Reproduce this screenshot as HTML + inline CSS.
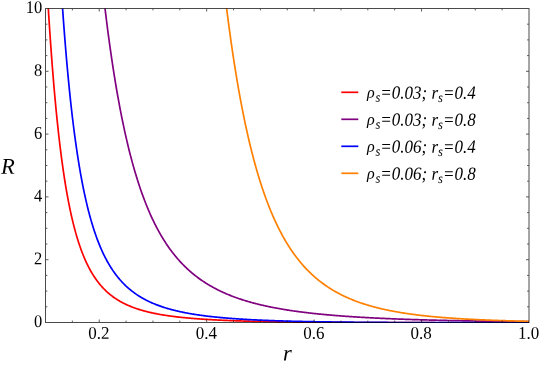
<!DOCTYPE html>
<html><head><meta charset="utf-8"><style>
html,body{margin:0;padding:0;background:#fff;}
svg{display:block;will-change:transform;font-family:"Liberation Serif",serif;}
</style></head><body>
<svg width="540" height="366" viewBox="0 0 540 366">
<rect width="540" height="366" fill="#fff"/>
<defs><clipPath id="c"><rect x="45.5" y="8.5" width="483.5" height="314.6"/></clipPath></defs>
<g clip-path="url(#c)">
<polyline points="45.50,-40.56 46.19,-27.72 46.88,-15.36 47.58,-3.49 48.27,7.93 48.96,18.90 49.65,29.44 50.34,39.57 51.03,49.31 51.73,58.66 52.42,67.65 53.11,76.28 53.80,84.57 54.49,92.54 55.18,100.20 55.88,107.56 56.57,114.63 57.26,121.42 57.95,127.95 58.64,134.23 59.33,140.27 60.03,146.08 60.72,151.66 61.41,157.03 62.10,162.20 62.79,167.17 63.48,171.96 64.18,176.56 64.87,181.00 65.56,185.27 66.25,189.38 66.94,193.34 67.63,197.16 68.33,200.83 69.02,204.38 69.71,207.79 70.40,211.09 71.09,214.27 71.78,217.33 72.48,220.29 73.17,223.15 73.86,225.90 74.55,228.56 75.24,231.13 75.93,233.61 76.63,236.01 77.32,238.32 78.01,240.56 78.70,242.73 79.39,244.82 80.08,246.84 80.78,248.80 81.47,250.69 82.16,252.52 82.85,254.30 83.54,256.01 84.23,257.68 84.93,259.29 85.62,260.85 86.31,262.36 87.00,263.82 87.69,265.24 88.38,266.62 89.08,267.95 89.77,269.25 90.46,270.50 91.15,271.72 91.84,272.90 92.53,274.05 93.23,275.16 93.92,276.24 94.61,277.29 95.30,278.31 95.99,279.30 96.68,280.26 97.38,281.20 98.07,282.11 98.76,282.99 99.45,283.85 100.14,284.69 100.83,285.50 101.53,286.29 102.22,287.06 102.91,287.81 103.60,288.54 104.29,289.24 104.98,289.93 105.68,290.61 106.37,291.26 107.06,291.90 107.75,292.52 108.44,293.13 109.13,293.72 109.83,294.29 110.52,294.85 111.21,295.40 111.90,295.93 112.59,296.45 113.28,296.96 113.98,297.46 114.67,297.94 115.36,298.41 116.05,298.87 116.74,299.32 117.43,299.76 118.13,300.18 118.82,300.60 119.51,301.01 120.20,301.41 120.89,301.80 121.58,302.18 122.28,302.55 122.97,302.91 123.66,303.27 124.35,303.61 125.04,303.95 125.73,304.28 126.43,304.61 127.12,304.93 127.81,305.24 128.50,305.54 129.19,305.84 129.88,306.13 130.58,306.41 131.27,306.69 131.96,306.96 132.65,307.23 133.34,307.49 134.03,307.74 134.73,307.99 135.42,308.24 136.11,308.48 136.80,308.71 137.49,308.94 138.18,309.17 138.88,309.39 139.57,309.61 140.26,309.82 140.95,310.03 141.64,310.23 142.33,310.43 143.03,310.63 143.72,310.82 144.41,311.01 145.10,311.19 145.79,311.37 146.48,311.55 147.18,311.72 147.87,311.89 148.56,312.06 149.25,312.23 149.94,312.39 150.63,312.55 151.33,312.70 152.02,312.85 152.71,313.00 153.40,313.15 154.09,313.30 154.78,313.44 155.48,313.58 156.17,313.71 156.86,313.85 157.55,313.98 158.24,314.11 158.93,314.24 159.63,314.36 160.32,314.48 161.01,314.60 161.70,314.72 162.39,314.84 163.08,314.95 163.78,315.06 164.47,315.18 165.16,315.28 165.85,315.39 166.54,315.50 167.23,315.60 167.93,315.70 168.62,315.80 169.31,315.90 170.00,315.99 170.69,316.09 171.38,316.18 172.08,316.27 172.77,316.36 173.46,316.45 174.15,316.54 174.84,316.63 175.53,316.71 176.23,316.79 176.92,316.88 177.61,316.96 178.30,317.04 178.99,317.11 179.68,317.19 180.38,317.27 181.07,317.34 181.76,317.41 182.45,317.48 183.14,317.56 183.83,317.63 184.53,317.69 185.22,317.76 185.91,317.83 186.60,317.89 187.29,317.96 187.98,318.02 188.68,318.08 189.37,318.15 190.06,318.21 190.75,318.27 191.44,318.33 192.13,318.38 192.83,318.44 193.52,318.50 194.21,318.55 194.90,318.61 195.59,318.66 196.28,318.72 196.98,318.77 197.67,318.82 198.36,318.87 199.05,318.92 199.74,318.97 200.43,319.02 201.13,319.07 201.82,319.11 202.51,319.16 203.20,319.21 203.89,319.25 204.58,319.30 205.28,319.34 205.97,319.38 206.66,319.43 207.35,319.47 208.04,319.51 208.74,319.55 209.43,319.59 210.12,319.63 210.81,319.67 211.50,319.71 212.19,319.75 212.89,319.78 213.58,319.82 214.27,319.86 214.96,319.89 215.65,319.93 216.34,319.97 217.04,320.00 217.73,320.03 218.42,320.07 219.11,320.10 219.80,320.13 220.49,320.17 221.19,320.20 221.88,320.23 222.57,320.26 223.26,320.29 223.95,320.32 224.64,320.35 225.34,320.38 226.03,320.41 226.72,320.44 227.41,320.47 228.10,320.50 228.79,320.52 229.49,320.55 230.18,320.58 230.87,320.61 231.56,320.63 232.25,320.66 232.94,320.68 233.64,320.71 234.33,320.73 235.02,320.76 235.71,320.78 236.40,320.81 237.09,320.83 237.79,320.85 238.48,320.88 239.17,320.90 239.86,320.92 240.55,320.94 241.24,320.97 241.94,320.99 242.63,321.01 243.32,321.03 244.01,321.05 244.70,321.07 245.39,321.09 246.09,321.11 246.78,321.13 247.47,321.15 248.16,321.17 248.85,321.19 249.54,321.21 250.24,321.23 250.93,321.24 251.62,321.26 252.31,321.28 253.00,321.30 253.69,321.32 254.39,321.33 255.08,321.35 255.77,321.37 256.46,321.38 257.15,321.40 257.84,321.42 258.54,321.43 259.23,321.45 259.92,321.46 260.61,321.48 261.30,321.49 261.99,321.51 262.69,321.52 263.38,321.54 264.07,321.55 264.76,321.57 265.45,321.58 266.14,321.60 266.84,321.61 267.53,321.62 268.22,321.64 268.91,321.65 269.60,321.66 270.29,321.68 270.99,321.69 271.68,321.70 272.37,321.71 273.06,321.73 273.75,321.74 274.44,321.75 275.14,321.76 275.83,321.78 276.52,321.79 277.21,321.80 277.90,321.81 278.59,321.82 279.29,321.83 279.98,321.84 280.67,321.85 281.36,321.87 282.05,321.88 282.74,321.89 283.44,321.90 284.13,321.91 284.82,321.92 285.51,321.93 286.20,321.94 286.89,321.95 287.59,321.96 288.28,321.97 288.97,321.98 289.66,321.99 290.35,321.99 291.04,322.00 291.74,322.01 292.43,322.02 293.12,322.03 293.81,322.04 294.50,322.05 295.19,322.06 295.89,322.06 296.58,322.07 297.27,322.08 297.96,322.09 298.65,322.10 299.34,322.11 300.04,322.11 300.73,322.12 301.42,322.13 302.11,322.14 302.80,322.14 303.49,322.15 304.19,322.16 304.88,322.17 305.57,322.17 306.26,322.18 306.95,322.19 307.64,322.19 308.34,322.20 309.03,322.21 309.72,322.21 310.41,322.22 311.10,322.23 311.79,322.23 312.49,322.24 313.18,322.25 313.87,322.25 314.56,322.26 315.25,322.26 315.94,322.27 316.64,322.28 317.33,322.28 318.02,322.29 318.71,322.29 319.40,322.30 320.09,322.31 320.79,322.31 321.48,322.32 322.17,322.32 322.86,322.33 323.55,322.33 324.24,322.34 324.94,322.34 325.63,322.35 326.32,322.35 327.01,322.36 327.70,322.36 328.39,322.37 329.09,322.37 329.78,322.38 330.47,322.38 331.16,322.39 331.85,322.39 332.54,322.40 333.24,322.40 333.93,322.41 334.62,322.41 335.31,322.41 336.00,322.42 336.69,322.42 337.39,322.43 338.08,322.43 338.77,322.44 339.46,322.44 340.15,322.44 340.84,322.45 341.54,322.45 342.23,322.46 342.92,322.46 343.61,322.46 344.30,322.47 344.99,322.47 345.69,322.47 346.38,322.48 347.07,322.48 347.76,322.49 348.45,322.49 349.14,322.49 349.84,322.50 350.53,322.50 351.22,322.50 351.91,322.51 352.60,322.51 353.29,322.51 353.99,322.52 354.68,322.52 355.37,322.52 356.06,322.53 356.75,322.53 357.44,322.53 358.14,322.53 358.83,322.54 359.52,322.54 360.21,322.54 360.90,322.55 361.59,322.55 362.29,322.55 362.98,322.55 363.67,322.56 364.36,322.56 365.05,322.56 365.74,322.57 366.44,322.57 367.13,322.57 367.82,322.57 368.51,322.58 369.20,322.58 369.90,322.58 370.59,322.58 371.28,322.59 371.97,322.59 372.66,322.59 373.35,322.59 374.05,322.60 374.74,322.60 375.43,322.60 376.12,322.60 376.81,322.60 377.50,322.61 378.20,322.61 378.89,322.61 379.58,322.61 380.27,322.61 380.96,322.62 381.65,322.62 382.35,322.62 383.04,322.62 383.73,322.63 384.42,322.63 385.11,322.63 385.80,322.63 386.50,322.63 387.19,322.63 387.88,322.64 388.57,322.64 389.26,322.64 389.95,322.64 390.65,322.64 391.34,322.65 392.03,322.65 392.72,322.65 393.41,322.65 394.10,322.65 394.80,322.65 395.49,322.66 396.18,322.66 396.87,322.66 397.56,322.66 398.25,322.66 398.95,322.66 399.64,322.67 400.33,322.67 401.02,322.67 401.71,322.67 402.40,322.67 403.10,322.67 403.79,322.67 404.48,322.68 405.17,322.68 405.86,322.68 406.55,322.68 407.25,322.68 407.94,322.68 408.63,322.68 409.32,322.69 410.01,322.69 410.70,322.69 411.40,322.69 412.09,322.69 412.78,322.69 413.47,322.69 414.16,322.69 414.85,322.70 415.55,322.70 416.24,322.70 416.93,322.70 417.62,322.70 418.31,322.70 419.00,322.70 419.70,322.70 420.39,322.70 421.08,322.71 421.77,322.71 422.46,322.71 423.15,322.71 423.85,322.71 424.54,322.71 425.23,322.71 425.92,322.71 426.61,322.71 427.30,322.71 428.00,322.72 428.69,322.72 429.38,322.72 430.07,322.72 430.76,322.72 431.45,322.72 432.15,322.72 432.84,322.72 433.53,322.72 434.22,322.72 434.91,322.72 435.60,322.73 436.30,322.73 436.99,322.73 437.68,322.73 438.37,322.73 439.06,322.73 439.75,322.73 440.45,322.73 441.14,322.73 441.83,322.73 442.52,322.73 443.21,322.73 443.90,322.74 444.60,322.74 445.29,322.74 445.98,322.74 446.67,322.74 447.36,322.74 448.05,322.74 448.75,322.74 449.44,322.74 450.13,322.74 450.82,322.74 451.51,322.74 452.20,322.74 452.90,322.74 453.59,322.74 454.28,322.75 454.97,322.75 455.66,322.75 456.35,322.75 457.05,322.75 457.74,322.75 458.43,322.75 459.12,322.75 459.81,322.75 460.50,322.75 461.20,322.75 461.89,322.75 462.58,322.75 463.27,322.75 463.96,322.75 464.65,322.75 465.35,322.75 466.04,322.76 466.73,322.76 467.42,322.76 468.11,322.76 468.80,322.76 469.50,322.76 470.19,322.76 470.88,322.76 471.57,322.76 472.26,322.76 472.95,322.76 473.65,322.76 474.34,322.76 475.03,322.76 475.72,322.76 476.41,322.76 477.10,322.76 477.80,322.76 478.49,322.76 479.18,322.76 479.87,322.76 480.56,322.76 481.25,322.77 481.95,322.77 482.64,322.77 483.33,322.77 484.02,322.77 484.71,322.77 485.40,322.77 486.10,322.77 486.79,322.77 487.48,322.77 488.17,322.77 488.86,322.77 489.55,322.77 490.25,322.77 490.94,322.77 491.63,322.77 492.32,322.77 493.01,322.77 493.70,322.77 494.40,322.77 495.09,322.77 495.78,322.77 496.47,322.77 497.16,322.77 497.85,322.77 498.55,322.77 499.24,322.77 499.93,322.77 500.62,322.77 501.31,322.78 502.00,322.78 502.70,322.78 503.39,322.78 504.08,322.78 504.77,322.78 505.46,322.78 506.15,322.78 506.85,322.78 507.54,322.78 508.23,322.78 508.92,322.78 509.61,322.78 510.30,322.78 511.00,322.78 511.69,322.78 512.38,322.78 513.07,322.78 513.76,322.78 514.45,322.78 515.15,322.78 515.84,322.78 516.53,322.78 517.22,322.78 517.91,322.78 518.60,322.78 519.30,322.78 519.99,322.78 520.68,322.78 521.37,322.78 522.06,322.78 522.75,322.78 523.45,322.78 524.14,322.78 524.83,322.78 525.52,322.78 526.21,322.78 526.90,322.78 527.60,322.78 528.29,322.78 528.98,322.78" fill="none" stroke="#ff0000" stroke-width="1.7" stroke-linejoin="round"/>
<polyline points="95.99,-78.68 96.68,-71.07 97.38,-63.63 98.07,-56.35 98.76,-49.23 99.45,-42.26 100.14,-35.45 100.83,-28.79 101.53,-22.28 102.22,-15.90 102.91,-9.67 103.60,-3.57 104.29,2.39 104.98,8.23 105.68,13.94 106.37,19.52 107.06,24.99 107.75,30.33 108.44,35.57 109.13,40.69 109.83,45.70 110.52,50.60 111.21,55.40 111.90,60.09 112.59,64.69 113.28,69.19 113.98,73.59 114.67,77.90 115.36,82.12 116.05,86.26 116.74,90.30 117.43,94.26 118.13,98.14 118.82,101.94 119.51,105.66 120.20,109.30 120.89,112.87 121.58,116.37 122.28,119.79 122.97,123.15 123.66,126.44 124.35,129.66 125.04,132.81 125.73,135.90 126.43,138.93 127.12,141.90 127.81,144.81 128.50,147.66 129.19,150.46 129.88,153.20 130.58,155.89 131.27,158.52 131.96,161.10 132.65,163.63 133.34,166.12 134.03,168.55 134.73,170.94 135.42,173.28 136.11,175.58 136.80,177.83 137.49,180.04 138.18,182.21 138.88,184.34 139.57,186.42 140.26,188.47 140.95,190.48 141.64,192.45 142.33,194.39 143.03,196.29 143.72,198.15 144.41,199.98 145.10,201.78 145.79,203.54 146.48,205.28 147.18,206.98 147.87,208.65 148.56,210.29 149.25,211.89 149.94,213.48 150.63,215.03 151.33,216.55 152.02,218.05 152.71,219.52 153.40,220.97 154.09,222.39 154.78,223.79 155.48,225.16 156.17,226.50 156.86,227.83 157.55,229.13 158.24,230.41 158.93,231.66 159.63,232.90 160.32,234.11 161.01,235.31 161.70,236.48 162.39,237.64 163.08,238.77 163.78,239.89 164.47,240.98 165.16,242.06 165.85,243.12 166.54,244.17 167.23,245.19 167.93,246.20 168.62,247.19 169.31,248.17 170.00,249.13 170.69,250.08 171.38,251.01 172.08,251.92 172.77,252.82 173.46,253.71 174.15,254.58 174.84,255.44 175.53,256.28 176.23,257.11 176.92,257.93 177.61,258.74 178.30,259.53 178.99,260.31 179.68,261.08 180.38,261.83 181.07,262.58 181.76,263.31 182.45,264.03 183.14,264.75 183.83,265.45 184.53,266.14 185.22,266.81 185.91,267.48 186.60,268.14 187.29,268.79 187.98,269.43 188.68,270.06 189.37,270.68 190.06,271.29 190.75,271.90 191.44,272.49 192.13,273.07 192.83,273.65 193.52,274.22 194.21,274.78 194.90,275.33 195.59,275.87 196.28,276.41 196.98,276.94 197.67,277.46 198.36,277.97 199.05,278.48 199.74,278.98 200.43,279.47 201.13,279.95 201.82,280.43 202.51,280.90 203.20,281.37 203.89,281.83 204.58,282.28 205.28,282.73 205.97,283.17 206.66,283.60 207.35,284.03 208.04,284.45 208.74,284.87 209.43,285.28 210.12,285.68 210.81,286.08 211.50,286.48 212.19,286.86 212.89,287.25 213.58,287.63 214.27,288.00 214.96,288.37 215.65,288.73 216.34,289.09 217.04,289.45 217.73,289.80 218.42,290.14 219.11,290.48 219.80,290.82 220.49,291.15 221.19,291.48 221.88,291.80 222.57,292.12 223.26,292.44 223.95,292.75 224.64,293.06 225.34,293.36 226.03,293.66 226.72,293.95 227.41,294.25 228.10,294.53 228.79,294.82 229.49,295.10 230.18,295.38 230.87,295.65 231.56,295.92 232.25,296.19 232.94,296.46 233.64,296.72 234.33,296.97 235.02,297.23 235.71,297.48 236.40,297.73 237.09,297.97 237.79,298.22 238.48,298.46 239.17,298.69 239.86,298.93 240.55,299.16 241.24,299.39 241.94,299.61 242.63,299.84 243.32,300.06 244.01,300.27 244.70,300.49 245.39,300.70 246.09,300.91 246.78,301.12 247.47,301.32 248.16,301.53 248.85,301.73 249.54,301.93 250.24,302.12 250.93,302.32 251.62,302.51 252.31,302.70 253.00,302.88 253.69,303.07 254.39,303.25 255.08,303.43 255.77,303.61 256.46,303.79 257.15,303.96 257.84,304.14 258.54,304.31 259.23,304.48 259.92,304.64 260.61,304.81 261.30,304.97 261.99,305.13 262.69,305.29 263.38,305.45 264.07,305.61 264.76,305.76 265.45,305.92 266.14,306.07 266.84,306.22 267.53,306.37 268.22,306.51 268.91,306.66 269.60,306.80 270.29,306.94 270.99,307.08 271.68,307.22 272.37,307.36 273.06,307.49 273.75,307.63 274.44,307.76 275.14,307.89 275.83,308.02 276.52,308.15 277.21,308.28 277.90,308.41 278.59,308.53 279.29,308.65 279.98,308.78 280.67,308.90 281.36,309.02 282.05,309.14 282.74,309.25 283.44,309.37 284.13,309.48 284.82,309.60 285.51,309.71 286.20,309.82 286.89,309.93 287.59,310.04 288.28,310.15 288.97,310.26 289.66,310.36 290.35,310.47 291.04,310.57 291.74,310.67 292.43,310.77 293.12,310.88 293.81,310.97 294.50,311.07 295.19,311.17 295.89,311.27 296.58,311.36 297.27,311.46 297.96,311.55 298.65,311.64 299.34,311.74 300.04,311.83 300.73,311.92 301.42,312.01 302.11,312.10 302.80,312.18 303.49,312.27 304.19,312.36 304.88,312.44 305.57,312.53 306.26,312.61 306.95,312.69 307.64,312.77 308.34,312.85 309.03,312.94 309.72,313.01 310.41,313.09 311.10,313.17 311.79,313.25 312.49,313.33 313.18,313.40 313.87,313.48 314.56,313.55 315.25,313.62 315.94,313.70 316.64,313.77 317.33,313.84 318.02,313.91 318.71,313.98 319.40,314.05 320.09,314.12 320.79,314.19 321.48,314.26 322.17,314.32 322.86,314.39 323.55,314.46 324.24,314.52 324.94,314.59 325.63,314.65 326.32,314.72 327.01,314.78 327.70,314.84 328.39,314.90 329.09,314.96 329.78,315.02 330.47,315.08 331.16,315.14 331.85,315.20 332.54,315.26 333.24,315.32 333.93,315.38 334.62,315.43 335.31,315.49 336.00,315.55 336.69,315.60 337.39,315.66 338.08,315.71 338.77,315.77 339.46,315.82 340.15,315.87 340.84,315.92 341.54,315.98 342.23,316.03 342.92,316.08 343.61,316.13 344.30,316.18 344.99,316.23 345.69,316.28 346.38,316.33 347.07,316.38 347.76,316.43 348.45,316.47 349.14,316.52 349.84,316.57 350.53,316.61 351.22,316.66 351.91,316.71 352.60,316.75 353.29,316.80 353.99,316.84 354.68,316.89 355.37,316.93 356.06,316.97 356.75,317.02 357.44,317.06 358.14,317.10 358.83,317.14 359.52,317.18 360.21,317.23 360.90,317.27 361.59,317.31 362.29,317.35 362.98,317.39 363.67,317.43 364.36,317.47 365.05,317.51 365.74,317.54 366.44,317.58 367.13,317.62 367.82,317.66 368.51,317.69 369.20,317.73 369.90,317.77 370.59,317.80 371.28,317.84 371.97,317.88 372.66,317.91 373.35,317.95 374.05,317.98 374.74,318.02 375.43,318.05 376.12,318.09 376.81,318.12 377.50,318.15 378.20,318.19 378.89,318.22 379.58,318.25 380.27,318.28 380.96,318.32 381.65,318.35 382.35,318.38 383.04,318.41 383.73,318.44 384.42,318.47 385.11,318.50 385.80,318.53 386.50,318.56 387.19,318.59 387.88,318.62 388.57,318.65 389.26,318.68 389.95,318.71 390.65,318.74 391.34,318.77 392.03,318.80 392.72,318.83 393.41,318.85 394.10,318.88 394.80,318.91 395.49,318.94 396.18,318.96 396.87,318.99 397.56,319.02 398.25,319.04 398.95,319.07 399.64,319.09 400.33,319.12 401.02,319.15 401.71,319.17 402.40,319.20 403.10,319.22 403.79,319.25 404.48,319.27 405.17,319.29 405.86,319.32 406.55,319.34 407.25,319.37 407.94,319.39 408.63,319.41 409.32,319.44 410.01,319.46 410.70,319.48 411.40,319.50 412.09,319.53 412.78,319.55 413.47,319.57 414.16,319.59 414.85,319.62 415.55,319.64 416.24,319.66 416.93,319.68 417.62,319.70 418.31,319.72 419.00,319.74 419.70,319.76 420.39,319.78 421.08,319.80 421.77,319.83 422.46,319.85 423.15,319.87 423.85,319.88 424.54,319.90 425.23,319.92 425.92,319.94 426.61,319.96 427.30,319.98 428.00,320.00 428.69,320.02 429.38,320.04 430.07,320.06 430.76,320.07 431.45,320.09 432.15,320.11 432.84,320.13 433.53,320.15 434.22,320.16 434.91,320.18 435.60,320.20 436.30,320.22 436.99,320.23 437.68,320.25 438.37,320.27 439.06,320.28 439.75,320.30 440.45,320.32 441.14,320.33 441.83,320.35 442.52,320.37 443.21,320.38 443.90,320.40 444.60,320.41 445.29,320.43 445.98,320.44 446.67,320.46 447.36,320.48 448.05,320.49 448.75,320.51 449.44,320.52 450.13,320.54 450.82,320.55 451.51,320.57 452.20,320.58 452.90,320.59 453.59,320.61 454.28,320.62 454.97,320.64 455.66,320.65 456.35,320.67 457.05,320.68 457.74,320.69 458.43,320.71 459.12,320.72 459.81,320.73 460.50,320.75 461.20,320.76 461.89,320.77 462.58,320.79 463.27,320.80 463.96,320.81 464.65,320.82 465.35,320.84 466.04,320.85 466.73,320.86 467.42,320.87 468.11,320.89 468.80,320.90 469.50,320.91 470.19,320.92 470.88,320.94 471.57,320.95 472.26,320.96 472.95,320.97 473.65,320.98 474.34,320.99 475.03,321.01 475.72,321.02 476.41,321.03 477.10,321.04 477.80,321.05 478.49,321.06 479.18,321.07 479.87,321.08 480.56,321.09 481.25,321.11 481.95,321.12 482.64,321.13 483.33,321.14 484.02,321.15 484.71,321.16 485.40,321.17 486.10,321.18 486.79,321.19 487.48,321.20 488.17,321.21 488.86,321.22 489.55,321.23 490.25,321.24 490.94,321.25 491.63,321.26 492.32,321.27 493.01,321.28 493.70,321.29 494.40,321.30 495.09,321.31 495.78,321.31 496.47,321.32 497.16,321.33 497.85,321.34 498.55,321.35 499.24,321.36 499.93,321.37 500.62,321.38 501.31,321.39 502.00,321.39 502.70,321.40 503.39,321.41 504.08,321.42 504.77,321.43 505.46,321.44 506.15,321.45 506.85,321.45 507.54,321.46 508.23,321.47 508.92,321.48 509.61,321.49 510.30,321.49 511.00,321.50 511.69,321.51 512.38,321.52 513.07,321.53 513.76,321.53 514.45,321.54 515.15,321.55 515.84,321.56 516.53,321.56 517.22,321.57 517.91,321.58 518.60,321.59 519.30,321.59 519.99,321.60 520.68,321.61 521.37,321.62 522.06,321.62 522.75,321.63 523.45,321.64 524.14,321.64 524.83,321.65 525.52,321.66 526.21,321.66 526.90,321.67 527.60,321.68 528.29,321.68 528.98,321.69" fill="none" stroke="#800080" stroke-width="1.7" stroke-linejoin="round"/>
<polyline points="57.26,-79.96 57.95,-66.89 58.64,-54.33 59.33,-42.26 60.03,-30.64 60.72,-19.48 61.41,-8.73 62.10,1.60 62.79,11.54 63.48,21.11 64.18,30.33 64.87,39.19 65.56,47.73 66.25,55.96 66.94,63.88 67.63,71.51 68.33,78.87 69.02,85.95 69.71,92.79 70.40,99.38 71.09,105.73 71.78,111.87 72.48,117.78 73.17,123.49 73.86,129.00 74.55,134.32 75.24,139.46 75.93,144.42 76.63,149.21 77.32,153.85 78.01,158.32 78.70,162.65 79.39,166.84 80.08,170.88 80.78,174.80 81.47,178.58 82.16,182.25 82.85,185.80 83.54,189.23 84.23,192.55 84.93,195.77 85.62,198.89 86.31,201.92 87.00,204.84 87.69,207.68 88.38,210.43 89.08,213.10 89.77,215.69 90.46,218.20 91.15,220.64 91.84,223.00 92.53,225.29 93.23,227.52 93.92,229.68 94.61,231.78 95.30,233.82 95.99,235.80 96.68,237.73 97.38,239.60 98.07,241.41 98.76,243.18 99.45,244.90 100.14,246.57 100.83,248.20 101.53,249.78 102.22,251.32 102.91,252.81 103.60,254.27 104.29,255.69 104.98,257.07 105.68,258.41 106.37,259.72 107.06,261.00 107.75,262.24 108.44,263.45 109.13,264.64 109.83,265.79 110.52,266.91 111.21,268.00 111.90,269.07 112.59,270.11 113.28,271.12 113.98,272.11 114.67,273.08 115.36,274.02 116.05,274.94 116.74,275.84 117.43,276.71 118.13,277.57 118.82,278.40 119.51,279.22 120.20,280.01 120.89,280.79 121.58,281.55 122.28,282.30 122.97,283.02 123.66,283.73 124.35,284.43 125.04,285.10 125.73,285.77 126.43,286.42 127.12,287.05 127.81,287.67 128.50,288.28 129.19,288.87 129.88,289.45 130.58,290.02 131.27,290.58 131.96,291.12 132.65,291.65 133.34,292.18 134.03,292.69 134.73,293.19 135.42,293.68 136.11,294.16 136.80,294.63 137.49,295.09 138.18,295.54 138.88,295.98 139.57,296.41 140.26,296.84 140.95,297.25 141.64,297.66 142.33,298.06 143.03,298.45 143.72,298.83 144.41,299.21 145.10,299.58 145.79,299.94 146.48,300.30 147.18,300.65 147.87,300.99 148.56,301.32 149.25,301.65 149.94,301.98 150.63,302.29 151.33,302.60 152.02,302.91 152.71,303.21 153.40,303.50 154.09,303.79 154.78,304.07 155.48,304.35 156.17,304.63 156.86,304.89 157.55,305.16 158.24,305.42 158.93,305.67 159.63,305.92 160.32,306.17 161.01,306.41 161.70,306.64 162.39,306.88 163.08,307.10 163.78,307.33 164.47,307.55 165.16,307.77 165.85,307.98 166.54,308.19 167.23,308.40 167.93,308.60 168.62,308.80 169.31,309.00 170.00,309.19 170.69,309.38 171.38,309.56 172.08,309.75 172.77,309.93 173.46,310.11 174.15,310.28 174.84,310.45 175.53,310.62 176.23,310.79 176.92,310.95 177.61,311.11 178.30,311.27 178.99,311.43 179.68,311.58 180.38,311.73 181.07,311.88 181.76,312.03 182.45,312.17 183.14,312.31 183.83,312.45 184.53,312.59 185.22,312.72 185.91,312.86 186.60,312.99 187.29,313.12 187.98,313.24 188.68,313.37 189.37,313.49 190.06,313.61 190.75,313.73 191.44,313.85 192.13,313.97 192.83,314.08 193.52,314.20 194.21,314.31 194.90,314.42 195.59,314.52 196.28,314.63 196.98,314.74 197.67,314.84 198.36,314.94 199.05,315.04 199.74,315.14 200.43,315.24 201.13,315.33 201.82,315.43 202.51,315.52 203.20,315.61 203.89,315.70 204.58,315.79 205.28,315.88 205.97,315.97 206.66,316.05 207.35,316.14 208.04,316.22 208.74,316.30 209.43,316.38 210.12,316.46 210.81,316.54 211.50,316.62 212.19,316.69 212.89,316.77 213.58,316.84 214.27,316.92 214.96,316.99 215.65,317.06 216.34,317.13 217.04,317.20 217.73,317.27 218.42,317.34 219.11,317.40 219.80,317.47 220.49,317.53 221.19,317.60 221.88,317.66 222.57,317.72 223.26,317.79 223.95,317.85 224.64,317.91 225.34,317.96 226.03,318.02 226.72,318.08 227.41,318.14 228.10,318.19 228.79,318.25 229.49,318.30 230.18,318.36 230.87,318.41 231.56,318.46 232.25,318.51 232.94,318.57 233.64,318.62 234.33,318.67 235.02,318.72 235.71,318.76 236.40,318.81 237.09,318.86 237.79,318.91 238.48,318.95 239.17,319.00 239.86,319.04 240.55,319.09 241.24,319.13 241.94,319.17 242.63,319.22 243.32,319.26 244.01,319.30 244.70,319.34 245.39,319.38 246.09,319.42 246.78,319.46 247.47,319.50 248.16,319.54 248.85,319.58 249.54,319.61 250.24,319.65 250.93,319.69 251.62,319.73 252.31,319.76 253.00,319.80 253.69,319.83 254.39,319.87 255.08,319.90 255.77,319.93 256.46,319.97 257.15,320.00 257.84,320.03 258.54,320.06 259.23,320.10 259.92,320.13 260.61,320.16 261.30,320.19 261.99,320.22 262.69,320.25 263.38,320.28 264.07,320.31 264.76,320.34 265.45,320.36 266.14,320.39 266.84,320.42 267.53,320.45 268.22,320.47 268.91,320.50 269.60,320.53 270.29,320.55 270.99,320.58 271.68,320.60 272.37,320.63 273.06,320.65 273.75,320.68 274.44,320.70 275.14,320.73 275.83,320.75 276.52,320.77 277.21,320.80 277.90,320.82 278.59,320.84 279.29,320.87 279.98,320.89 280.67,320.91 281.36,320.93 282.05,320.95 282.74,320.97 283.44,320.99 284.13,321.01 284.82,321.03 285.51,321.05 286.20,321.07 286.89,321.09 287.59,321.11 288.28,321.13 288.97,321.15 289.66,321.17 290.35,321.19 291.04,321.21 291.74,321.23 292.43,321.24 293.12,321.26 293.81,321.28 294.50,321.30 295.19,321.31 295.89,321.33 296.58,321.35 297.27,321.36 297.96,321.38 298.65,321.39 299.34,321.41 300.04,321.43 300.73,321.44 301.42,321.46 302.11,321.47 302.80,321.49 303.49,321.50 304.19,321.52 304.88,321.53 305.57,321.55 306.26,321.56 306.95,321.57 307.64,321.59 308.34,321.60 309.03,321.61 309.72,321.63 310.41,321.64 311.10,321.65 311.79,321.67 312.49,321.68 313.18,321.69 313.87,321.70 314.56,321.72 315.25,321.73 315.94,321.74 316.64,321.75 317.33,321.77 318.02,321.78 318.71,321.79 319.40,321.80 320.09,321.81 320.79,321.82 321.48,321.83 322.17,321.84 322.86,321.85 323.55,321.87 324.24,321.88 324.94,321.89 325.63,321.90 326.32,321.91 327.01,321.92 327.70,321.93 328.39,321.94 329.09,321.95 329.78,321.96 330.47,321.97 331.16,321.97 331.85,321.98 332.54,321.99 333.24,322.00 333.93,322.01 334.62,322.02 335.31,322.03 336.00,322.04 336.69,322.05 337.39,322.05 338.08,322.06 338.77,322.07 339.46,322.08 340.15,322.09 340.84,322.10 341.54,322.10 342.23,322.11 342.92,322.12 343.61,322.13 344.30,322.13 344.99,322.14 345.69,322.15 346.38,322.16 347.07,322.16 347.76,322.17 348.45,322.18 349.14,322.18 349.84,322.19 350.53,322.20 351.22,322.21 351.91,322.21 352.60,322.22 353.29,322.22 353.99,322.23 354.68,322.24 355.37,322.24 356.06,322.25 356.75,322.26 357.44,322.26 358.14,322.27 358.83,322.27 359.52,322.28 360.21,322.29 360.90,322.29 361.59,322.30 362.29,322.30 362.98,322.31 363.67,322.31 364.36,322.32 365.05,322.33 365.74,322.33 366.44,322.34 367.13,322.34 367.82,322.35 368.51,322.35 369.20,322.36 369.90,322.36 370.59,322.37 371.28,322.37 371.97,322.38 372.66,322.38 373.35,322.39 374.05,322.39 374.74,322.39 375.43,322.40 376.12,322.40 376.81,322.41 377.50,322.41 378.20,322.42 378.89,322.42 379.58,322.43 380.27,322.43 380.96,322.43 381.65,322.44 382.35,322.44 383.04,322.45 383.73,322.45 384.42,322.45 385.11,322.46 385.80,322.46 386.50,322.47 387.19,322.47 387.88,322.47 388.57,322.48 389.26,322.48 389.95,322.48 390.65,322.49 391.34,322.49 392.03,322.49 392.72,322.50 393.41,322.50 394.10,322.51 394.80,322.51 395.49,322.51 396.18,322.51 396.87,322.52 397.56,322.52 398.25,322.52 398.95,322.53 399.64,322.53 400.33,322.53 401.02,322.54 401.71,322.54 402.40,322.54 403.10,322.55 403.79,322.55 404.48,322.55 405.17,322.55 405.86,322.56 406.55,322.56 407.25,322.56 407.94,322.57 408.63,322.57 409.32,322.57 410.01,322.57 410.70,322.58 411.40,322.58 412.09,322.58 412.78,322.58 413.47,322.59 414.16,322.59 414.85,322.59 415.55,322.59 416.24,322.60 416.93,322.60 417.62,322.60 418.31,322.60 419.00,322.60 419.70,322.61 420.39,322.61 421.08,322.61 421.77,322.61 422.46,322.62 423.15,322.62 423.85,322.62 424.54,322.62 425.23,322.62 425.92,322.63 426.61,322.63 427.30,322.63 428.00,322.63 428.69,322.63 429.38,322.64 430.07,322.64 430.76,322.64 431.45,322.64 432.15,322.64 432.84,322.64 433.53,322.65 434.22,322.65 434.91,322.65 435.60,322.65 436.30,322.65 436.99,322.65 437.68,322.66 438.37,322.66 439.06,322.66 439.75,322.66 440.45,322.66 441.14,322.66 441.83,322.67 442.52,322.67 443.21,322.67 443.90,322.67 444.60,322.67 445.29,322.67 445.98,322.67 446.67,322.68 447.36,322.68 448.05,322.68 448.75,322.68 449.44,322.68 450.13,322.68 450.82,322.68 451.51,322.69 452.20,322.69 452.90,322.69 453.59,322.69 454.28,322.69 454.97,322.69 455.66,322.69 456.35,322.69 457.05,322.70 457.74,322.70 458.43,322.70 459.12,322.70 459.81,322.70 460.50,322.70 461.20,322.70 461.89,322.70 462.58,322.70 463.27,322.71 463.96,322.71 464.65,322.71 465.35,322.71 466.04,322.71 466.73,322.71 467.42,322.71 468.11,322.71 468.80,322.71 469.50,322.72 470.19,322.72 470.88,322.72 471.57,322.72 472.26,322.72 472.95,322.72 473.65,322.72 474.34,322.72 475.03,322.72 475.72,322.72 476.41,322.72 477.10,322.73 477.80,322.73 478.49,322.73 479.18,322.73 479.87,322.73 480.56,322.73 481.25,322.73 481.95,322.73 482.64,322.73 483.33,322.73 484.02,322.73 484.71,322.73 485.40,322.74 486.10,322.74 486.79,322.74 487.48,322.74 488.17,322.74 488.86,322.74 489.55,322.74 490.25,322.74 490.94,322.74 491.63,322.74 492.32,322.74 493.01,322.74 493.70,322.74 494.40,322.74 495.09,322.74 495.78,322.75 496.47,322.75 497.16,322.75 497.85,322.75 498.55,322.75 499.24,322.75 499.93,322.75 500.62,322.75 501.31,322.75 502.00,322.75 502.70,322.75 503.39,322.75 504.08,322.75 504.77,322.75 505.46,322.75 506.15,322.75 506.85,322.75 507.54,322.76 508.23,322.76 508.92,322.76 509.61,322.76 510.30,322.76 511.00,322.76 511.69,322.76 512.38,322.76 513.07,322.76 513.76,322.76 514.45,322.76 515.15,322.76 515.84,322.76 516.53,322.76 517.22,322.76 517.91,322.76 518.60,322.76 519.30,322.76 519.99,322.76 520.68,322.76 521.37,322.76 522.06,322.77 522.75,322.77 523.45,322.77 524.14,322.77 524.83,322.77 525.52,322.77 526.21,322.77 526.90,322.77 527.60,322.77 528.29,322.77 528.98,322.77" fill="none" stroke="#0000ff" stroke-width="1.7" stroke-linejoin="round"/>
<polyline points="217.04,-80.57 217.73,-73.25 218.42,-66.08 219.11,-59.06 219.80,-52.19 220.49,-45.47 221.19,-38.88 221.88,-32.43 222.57,-26.12 223.26,-19.93 223.95,-13.88 224.64,-7.94 225.34,-2.13 226.03,3.56 226.72,9.14 227.41,14.60 228.10,19.95 228.79,25.20 229.49,30.34 230.18,35.37 230.87,40.31 231.56,45.15 232.25,49.89 232.94,54.54 233.64,59.09 234.33,63.56 235.02,67.94 235.71,72.23 236.40,76.44 237.09,80.57 237.79,84.61 238.48,88.58 239.17,92.47 239.86,96.29 240.55,100.04 241.24,103.71 241.94,107.31 242.63,110.85 243.32,114.31 244.01,117.71 244.70,121.05 245.39,124.33 246.09,127.54 246.78,130.69 247.47,133.79 248.16,136.83 248.85,139.81 249.54,142.73 250.24,145.60 250.93,148.42 251.62,151.19 252.31,153.91 253.00,156.57 253.69,159.19 254.39,161.76 255.08,164.29 255.77,166.77 256.46,169.20 257.15,171.59 257.84,173.94 258.54,176.25 259.23,178.51 259.92,180.74 260.61,182.92 261.30,185.07 261.99,187.18 262.69,189.25 263.38,191.28 264.07,193.28 264.76,195.25 265.45,197.18 266.14,199.07 266.84,200.94 267.53,202.77 268.22,204.57 268.91,206.34 269.60,208.08 270.29,209.79 270.99,211.47 271.68,213.12 272.37,214.74 273.06,216.34 273.75,217.91 274.44,219.45 275.14,220.97 275.83,222.46 276.52,223.92 277.21,225.36 277.90,226.78 278.59,228.18 279.29,229.55 279.98,230.89 280.67,232.22 281.36,233.52 282.05,234.81 282.74,236.07 283.44,237.31 284.13,238.53 284.82,239.73 285.51,240.91 286.20,242.07 286.89,243.22 287.59,244.34 288.28,245.45 288.97,246.54 289.66,247.61 290.35,248.66 291.04,249.70 291.74,250.72 292.43,251.73 293.12,252.72 293.81,253.69 294.50,254.65 295.19,255.59 295.89,256.52 296.58,257.43 297.27,258.33 297.96,259.21 298.65,260.08 299.34,260.94 300.04,261.79 300.73,262.62 301.42,263.44 302.11,264.24 302.80,265.04 303.49,265.82 304.19,266.59 304.88,267.34 305.57,268.09 306.26,268.82 306.95,269.55 307.64,270.26 308.34,270.96 309.03,271.65 309.72,272.33 310.41,273.00 311.10,273.66 311.79,274.31 312.49,274.95 313.18,275.58 313.87,276.21 314.56,276.82 315.25,277.42 315.94,278.02 316.64,278.60 317.33,279.18 318.02,279.75 318.71,280.31 319.40,280.86 320.09,281.40 320.79,281.94 321.48,282.46 322.17,282.99 322.86,283.50 323.55,284.00 324.24,284.50 324.94,284.99 325.63,285.48 326.32,285.95 327.01,286.42 327.70,286.89 328.39,287.34 329.09,287.79 329.78,288.23 330.47,288.67 331.16,289.10 331.85,289.53 332.54,289.95 333.24,290.36 333.93,290.77 334.62,291.17 335.31,291.56 336.00,291.95 336.69,292.34 337.39,292.72 338.08,293.09 338.77,293.46 339.46,293.82 340.15,294.18 340.84,294.54 341.54,294.89 342.23,295.23 342.92,295.57 343.61,295.90 344.30,296.23 344.99,296.56 345.69,296.88 346.38,297.20 347.07,297.51 347.76,297.82 348.45,298.12 349.14,298.42 349.84,298.72 350.53,299.01 351.22,299.30 351.91,299.58 352.60,299.86 353.29,300.14 353.99,300.41 354.68,300.68 355.37,300.94 356.06,301.20 356.75,301.46 357.44,301.72 358.14,301.97 358.83,302.22 359.52,302.46 360.21,302.70 360.90,302.94 361.59,303.18 362.29,303.41 362.98,303.64 363.67,303.86 364.36,304.09 365.05,304.31 365.74,304.52 366.44,304.74 367.13,304.95 367.82,305.16 368.51,305.37 369.20,305.57 369.90,305.77 370.59,305.97 371.28,306.16 371.97,306.36 372.66,306.55 373.35,306.74 374.05,306.92 374.74,307.11 375.43,307.29 376.12,307.47 376.81,307.64 377.50,307.82 378.20,307.99 378.89,308.16 379.58,308.33 380.27,308.49 380.96,308.66 381.65,308.82 382.35,308.98 383.04,309.13 383.73,309.29 384.42,309.44 385.11,309.60 385.80,309.74 386.50,309.89 387.19,310.04 387.88,310.18 388.57,310.33 389.26,310.47 389.95,310.60 390.65,310.74 391.34,310.88 392.03,311.01 392.72,311.14 393.41,311.27 394.10,311.40 394.80,311.53 395.49,311.66 396.18,311.78 396.87,311.90 397.56,312.02 398.25,312.14 398.95,312.26 399.64,312.38 400.33,312.50 401.02,312.61 401.71,312.72 402.40,312.83 403.10,312.94 403.79,313.05 404.48,313.16 405.17,313.27 405.86,313.37 406.55,313.47 407.25,313.58 407.94,313.68 408.63,313.78 409.32,313.88 410.01,313.97 410.70,314.07 411.40,314.16 412.09,314.26 412.78,314.35 413.47,314.44 414.16,314.53 414.85,314.62 415.55,314.71 416.24,314.80 416.93,314.89 417.62,314.97 418.31,315.06 419.00,315.14 419.70,315.22 420.39,315.31 421.08,315.39 421.77,315.47 422.46,315.54 423.15,315.62 423.85,315.70 424.54,315.78 425.23,315.85 425.92,315.93 426.61,316.00 427.30,316.07 428.00,316.14 428.69,316.21 429.38,316.28 430.07,316.35 430.76,316.42 431.45,316.49 432.15,316.56 432.84,316.62 433.53,316.69 434.22,316.75 434.91,316.82 435.60,316.88 436.30,316.94 436.99,317.01 437.68,317.07 438.37,317.13 439.06,317.19 439.75,317.25 440.45,317.30 441.14,317.36 441.83,317.42 442.52,317.48 443.21,317.53 443.90,317.59 444.60,317.64 445.29,317.70 445.98,317.75 446.67,317.80 447.36,317.85 448.05,317.91 448.75,317.96 449.44,318.01 450.13,318.06 450.82,318.11 451.51,318.16 452.20,318.20 452.90,318.25 453.59,318.30 454.28,318.35 454.97,318.39 455.66,318.44 456.35,318.48 457.05,318.53 457.74,318.57 458.43,318.62 459.12,318.66 459.81,318.70 460.50,318.75 461.20,318.79 461.89,318.83 462.58,318.87 463.27,318.91 463.96,318.95 464.65,318.99 465.35,319.03 466.04,319.07 466.73,319.11 467.42,319.14 468.11,319.18 468.80,319.22 469.50,319.26 470.19,319.29 470.88,319.33 471.57,319.36 472.26,319.40 472.95,319.43 473.65,319.47 474.34,319.50 475.03,319.54 475.72,319.57 476.41,319.60 477.10,319.64 477.80,319.67 478.49,319.70 479.18,319.73 479.87,319.76 480.56,319.79 481.25,319.82 481.95,319.85 482.64,319.88 483.33,319.91 484.02,319.94 484.71,319.97 485.40,320.00 486.10,320.03 486.79,320.06 487.48,320.09 488.17,320.11 488.86,320.14 489.55,320.17 490.25,320.20 490.94,320.22 491.63,320.25 492.32,320.27 493.01,320.30 493.70,320.33 494.40,320.35 495.09,320.38 495.78,320.40 496.47,320.42 497.16,320.45 497.85,320.47 498.55,320.50 499.24,320.52 499.93,320.54 500.62,320.57 501.31,320.59 502.00,320.61 502.70,320.63 503.39,320.65 504.08,320.68 504.77,320.70 505.46,320.72 506.15,320.74 506.85,320.76 507.54,320.78 508.23,320.80 508.92,320.82 509.61,320.84 510.30,320.86 511.00,320.88 511.69,320.90 512.38,320.92 513.07,320.94 513.76,320.96 514.45,320.98 515.15,321.00 515.84,321.01 516.53,321.03 517.22,321.05 517.91,321.07 518.60,321.09 519.30,321.10 519.99,321.12 520.68,321.14 521.37,321.15 522.06,321.17 522.75,321.19 523.45,321.20 524.14,321.22 524.83,321.24 525.52,321.25 526.21,321.27 526.90,321.28 527.60,321.30 528.29,321.32 528.98,321.33" fill="none" stroke="#ff8000" stroke-width="1.7" stroke-linejoin="round"/>
</g>
<g style="mix-blend-mode:multiply"><rect x="45.5" y="8.5" width="483.5" height="314.0" fill="none" stroke="#4a4a4a" stroke-width="1"/>
<path d="M72.36,322.5v-1.9 M72.36,8.5v1.9 M99.22,322.5v-3.0 M99.22,8.5v3.0 M126.08,322.5v-1.9 M126.08,8.5v1.9 M152.94,322.5v-1.9 M152.94,8.5v1.9 M179.80,322.5v-1.9 M179.80,8.5v1.9 M206.66,322.5v-3.0 M206.66,8.5v3.0 M233.52,322.5v-1.9 M233.52,8.5v1.9 M260.38,322.5v-1.9 M260.38,8.5v1.9 M287.24,322.5v-1.9 M287.24,8.5v1.9 M314.10,322.5v-3.0 M314.10,8.5v3.0 M340.96,322.5v-1.9 M340.96,8.5v1.9 M367.82,322.5v-1.9 M367.82,8.5v1.9 M394.68,322.5v-1.9 M394.68,8.5v1.9 M421.54,322.5v-3.0 M421.54,8.5v3.0 M448.40,322.5v-1.9 M448.40,8.5v1.9 M475.26,322.5v-1.9 M475.26,8.5v1.9 M502.12,322.5v-1.9 M502.12,8.5v1.9 M45.5,306.80h1.9 M529.0,306.80h-1.9 M45.5,291.10h1.9 M529.0,291.10h-1.9 M45.5,275.40h1.9 M529.0,275.40h-1.9 M45.5,259.70h3.0 M529.0,259.70h-3.0 M45.5,244.00h1.9 M529.0,244.00h-1.9 M45.5,228.30h1.9 M529.0,228.30h-1.9 M45.5,212.60h1.9 M529.0,212.60h-1.9 M45.5,196.90h3.0 M529.0,196.90h-3.0 M45.5,181.20h1.9 M529.0,181.20h-1.9 M45.5,165.50h1.9 M529.0,165.50h-1.9 M45.5,149.80h1.9 M529.0,149.80h-1.9 M45.5,134.10h3.0 M529.0,134.10h-3.0 M45.5,118.40h1.9 M529.0,118.40h-1.9 M45.5,102.70h1.9 M529.0,102.70h-1.9 M45.5,87.00h1.9 M529.0,87.00h-1.9 M45.5,71.30h3.0 M529.0,71.30h-3.0 M45.5,55.60h1.9 M529.0,55.60h-1.9 M45.5,39.90h1.9 M529.0,39.90h-1.9 M45.5,24.20h1.9 M529.0,24.20h-1.9 " stroke="#4a4a4a" stroke-width="0.9" fill="none"/></g>
<g fill="#000">
<text transform="translate(98.9,338.8) rotate(0.05) scale(1,1.05)" text-anchor="middle" font-size="17">0.2</text>
<text transform="translate(206.4,338.8) rotate(0.05) scale(1,1.05)" text-anchor="middle" font-size="17">0.4</text>
<text transform="translate(313.8,338.8) rotate(0.05) scale(1,1.05)" text-anchor="middle" font-size="17">0.6</text>
<text transform="translate(421.2,338.8) rotate(0.05) scale(1,1.05)" text-anchor="middle" font-size="17">0.8</text>
<text transform="translate(528.7,338.8) rotate(0.05) scale(1,1.05)" text-anchor="middle" font-size="17">1.0</text>
<text transform="translate(42.2,327.1) rotate(0.05) scale(0.97,1.05)" text-anchor="end" font-size="17">0</text>
<text transform="translate(42.2,264.3) rotate(0.05) scale(0.97,1.05)" text-anchor="end" font-size="17">2</text>
<text transform="translate(42.2,201.5) rotate(0.05) scale(0.97,1.05)" text-anchor="end" font-size="17">4</text>
<text transform="translate(42.2,138.7) rotate(0.05) scale(0.97,1.05)" text-anchor="end" font-size="17">6</text>
<text transform="translate(42.2,75.9) rotate(0.05) scale(0.97,1.05)" text-anchor="end" font-size="17">8</text>
<text transform="translate(42.2,13.1) rotate(0.05) scale(0.97,1.05)" text-anchor="end" font-size="17">10</text>

<text transform="translate(1,173.7) rotate(0.05)" font-size="22.5" font-style="italic">R</text>
<text transform="translate(283,360.6) rotate(0.05)" font-size="22.5" font-style="italic">r</text>
<line x1="341.3" x2="358.3" y1="92.3" y2="92.3" stroke="#ff0000" stroke-width="1.7"/>
<text transform="translate(367,97.6) rotate(0.05)" font-size="16" font-style="italic">ρ</text>
<text transform="translate(375.5,98.6) rotate(0.05) scale(1,1.09)" font-size="17" font-style="italic"><tspan dy="3" font-size="12.5">s</tspan><tspan dy="-3">=0.03; r</tspan><tspan dy="3" font-size="12.5">s</tspan><tspan dy="-3">=0.4</tspan></text>
<line x1="341.3" x2="358.3" y1="119.3" y2="119.3" stroke="#800080" stroke-width="1.7"/>
<text transform="translate(367,124.6) rotate(0.05)" font-size="16" font-style="italic">ρ</text>
<text transform="translate(375.5,125.6) rotate(0.05) scale(1,1.09)" font-size="17" font-style="italic"><tspan dy="3" font-size="12.5">s</tspan><tspan dy="-3">=0.03; r</tspan><tspan dy="3" font-size="12.5">s</tspan><tspan dy="-3">=0.8</tspan></text>
<line x1="341.3" x2="358.3" y1="146.3" y2="146.3" stroke="#0000ff" stroke-width="1.7"/>
<text transform="translate(367,151.6) rotate(0.05)" font-size="16" font-style="italic">ρ</text>
<text transform="translate(375.5,152.6) rotate(0.05) scale(1,1.09)" font-size="17" font-style="italic"><tspan dy="3" font-size="12.5">s</tspan><tspan dy="-3">=0.06; r</tspan><tspan dy="3" font-size="12.5">s</tspan><tspan dy="-3">=0.4</tspan></text>
<line x1="341.3" x2="358.3" y1="173.3" y2="173.3" stroke="#ff8000" stroke-width="1.7"/>
<text transform="translate(367,178.6) rotate(0.05)" font-size="16" font-style="italic">ρ</text>
<text transform="translate(375.5,179.6) rotate(0.05) scale(1,1.09)" font-size="17" font-style="italic"><tspan dy="3" font-size="12.5">s</tspan><tspan dy="-3">=0.06; r</tspan><tspan dy="3" font-size="12.5">s</tspan><tspan dy="-3">=0.8</tspan></text>

</g>
</svg>
</body></html>
